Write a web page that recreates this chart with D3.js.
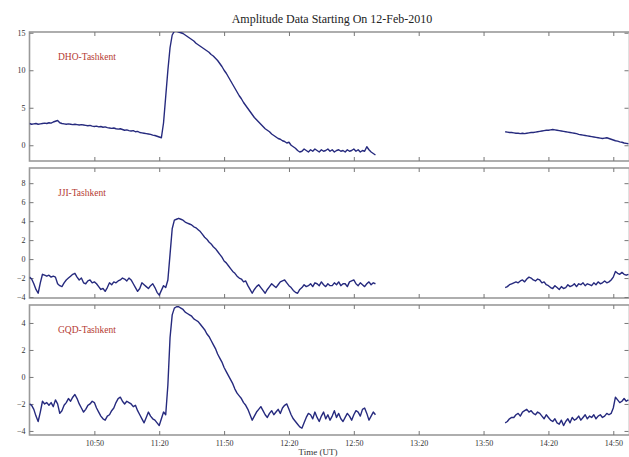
<!DOCTYPE html>
<html>
<head>
<meta charset="utf-8">
<script src="https://cdn.jsdelivr.net/npm/d3@7"></script>
<style>
  body { margin: 0; background: #fff; }
  svg { display: block; font-family: "Liberation Serif", "DejaVu Serif", serif; }
</style>
</head>
<body>
<div id="chart"></div>
<script>
// ---- data (one sample per minute) ----
const title = "Amplitude Data Starting On 12-Feb-2010";
const xLabel = "Time (UT)";
const day = "2010-02-12";
const xStart = "10:20";
const xEnd = "14:57:30";
const xTickLabels = ["10:50", "11:20", "11:50", "12:20", "12:50", "13:20", "13:50", "14:20", "14:50"];

// two recording segments: first starts 10:20, second starts 14:00
const segStarts = ["10:20", "14:00"];

const stations = ["DHO-Tashkent", "JJI-Tashkent", "GQD-Tashkent"];

const dhoA = [
  2.9, 2.8, 2.85, 2.9, 2.8, 2.85, 2.9, 2.95, 2.9, 3.0,
  2.95, 3.1, 3.2, 3.3, 3.0, 2.9, 2.85, 2.8, 2.85, 2.8,
  2.75, 2.8, 2.75, 2.7, 2.75, 2.7, 2.65, 2.6, 2.65, 2.55,
  2.5, 2.55, 2.45, 2.5, 2.4, 2.45, 2.35, 2.3, 2.25, 2.3,
  2.2, 2.15, 2.2, 2.1, 2.0, 2.05, 1.95, 1.9, 1.95, 1.8,
  1.85, 1.7, 1.65, 1.6, 1.55, 1.5, 1.45, 1.35, 1.3, 1.2,
  1.1, 1.0, 3.0, 6.5, 10.0, 13.0, 14.7, 15.2, 15.2, 15.1,
  15.0, 14.9, 14.7, 14.5, 14.3, 14.1, 13.9, 13.6, 13.4, 13.2,
  13.0, 12.8, 12.6, 12.4, 12.1, 11.9, 11.6, 11.3, 10.9, 10.5,
  10.0, 9.6, 9.1, 8.6, 8.1, 7.6, 7.1, 6.6, 6.2, 5.7,
  5.3, 4.9, 4.5, 4.1, 3.7, 3.4, 3.1, 2.8, 2.5, 2.2,
  2.0, 1.8, 1.5, 1.3, 1.1, 0.9, 0.8, 0.6, 0.5, 0.3,
  0.4, 0.0, -0.2, -0.4, -0.7, -0.9, -0.8, -0.5, -0.7, -0.9,
  -0.6, -0.8, -0.5, -0.7, -0.9, -0.6, -0.8, -0.7, -0.5, -0.8,
  -0.6, -0.9, -0.7, -0.6, -0.8, -0.7, -0.9, -0.6, -0.8, -0.7,
  -0.5, -0.8, -0.6, -0.9, -0.7, -0.8, -0.2, -0.6, -0.9, -1.1,
  -1.3
];
const dhoB = [
  1.8, 1.75, 1.7, 1.7, 1.65, 1.6, 1.6, 1.55, 1.6, 1.55,
  1.6, 1.65, 1.7, 1.7, 1.75, 1.8, 1.85, 1.9, 1.95, 2.0,
  2.0, 2.05, 2.1, 2.05, 2.0, 1.95, 1.9, 1.85, 1.8, 1.75,
  1.7, 1.65, 1.6, 1.55, 1.45, 1.4, 1.35, 1.3, 1.25, 1.2,
  1.15, 1.1, 1.05, 1.0, 0.95, 0.9, 0.95, 1.0, 0.9, 0.8,
  0.7, 0.6, 0.55, 0.45, 0.4, 0.3, 0.25, 0.2
];

const jjiA = [
  -1.9, -2.1, -2.6, -3.2, -3.6, -2.5, -1.6, -1.7, -1.8, -1.7,
  -1.9, -1.8, -1.9, -2.6, -2.8, -2.9, -2.5, -2.2, -2.0, -1.8,
  -1.6, -1.5, -1.9, -2.2, -2.0, -2.5, -2.6, -2.3, -2.2, -2.5,
  -2.4, -2.6, -2.9, -3.2, -3.1, -3.4, -3.0, -2.5, -2.7, -2.4,
  -2.5, -2.3, -2.2, -2.0, -2.1, -2.3, -2.0, -2.2, -2.6, -3.0,
  -3.4, -3.1, -2.5, -2.7, -2.9, -3.1, -2.8, -2.6, -3.0, -3.5,
  -3.8, -3.3, -2.8, -3.0, -2.2, 0.5, 3.2, 4.1, 4.2, 4.3,
  4.2, 4.1, 3.9, 3.8, 3.7, 3.6, 3.4, 3.3, 3.1, 2.9,
  2.6, 2.3, 2.1, 1.8, 1.6, 1.3, 1.1, 0.8, 0.5, 0.2,
  -0.2, -0.4, -0.7, -1.0, -1.3, -1.5, -1.8, -2.0, -2.1, -2.4,
  -2.3, -2.8, -3.2, -3.6, -3.2, -2.9, -2.7, -3.0, -3.3, -3.6,
  -3.2, -2.9, -2.6, -2.8, -3.0, -2.7, -2.4, -2.3, -2.2, -2.5,
  -2.8, -3.0, -3.3, -3.5, -3.6, -3.2, -3.0, -2.7, -2.9, -2.8,
  -2.6, -2.9, -2.5, -2.6, -2.8, -2.4, -2.7, -2.9, -2.6, -2.8,
  -2.8, -2.5, -2.7, -2.4, -2.8, -2.6, -2.6, -2.9, -2.4, -2.3,
  -2.2, -2.6, -2.8, -2.5, -2.7, -2.9, -2.6, -2.4, -2.7, -2.5,
  -2.6
];
const jjiB = [
  -3.0, -2.9, -2.7, -2.6, -2.5, -2.4, -2.5, -2.3, -2.2, -2.4,
  -2.1, -1.9, -2.0, -2.2, -2.3, -2.1, -2.2, -2.5, -2.4, -2.7,
  -2.8, -3.0, -3.1, -2.8, -3.0, -3.2, -2.9, -3.1, -3.0, -2.7,
  -2.9, -2.8, -2.6, -2.9, -2.6, -2.7, -2.5, -2.8, -2.6, -2.7,
  -2.8, -2.5, -2.7, -2.4, -2.6, -2.5, -2.3, -2.5, -2.4, -2.2,
  -1.9, -1.3, -1.5, -1.6, -1.4, -1.6, -1.7, -1.6
];

const gqdA = [
  -2.0, -2.1, -2.4, -2.9, -3.3, -2.6, -1.8, -2.0, -1.9, -2.1,
  -1.9, -2.2, -1.7, -2.0, -2.7, -2.5, -2.1, -1.9, -1.6, -1.8,
  -1.5, -1.3, -1.6, -2.0, -2.3, -2.6, -2.4, -2.1, -2.0, -1.8,
  -1.9, -2.3, -2.6, -2.9, -3.1, -3.2, -2.9, -2.8, -2.5, -2.3,
  -1.9, -1.6, -1.5, -1.8, -2.0, -1.8, -1.9, -2.0, -2.2, -2.1,
  -2.5, -2.8, -3.1, -3.4, -3.0, -2.6, -2.9, -3.1, -3.2, -3.4,
  -3.6, -3.1, -2.6, -2.8, -0.6, 2.9, 4.6, 5.1, 5.2, 5.2,
  5.1, 5.0, 4.8, 4.7, 4.6, 4.5, 4.3, 4.2, 4.1, 3.9,
  3.7, 3.5, 3.2, 3.0, 2.7, 2.4, 2.1, 1.7, 1.4, 1.1,
  0.7, 0.4, 0.1, -0.2, -0.5, -0.9, -1.2, -1.4, -1.6, -1.9,
  -2.1, -2.4, -2.8, -3.2, -2.9, -2.6, -2.4, -2.2, -2.5, -2.8,
  -3.0, -2.7, -2.5, -2.8, -2.6, -2.4, -2.7, -2.3, -2.1, -2.0,
  -2.4, -2.8, -3.1, -3.3, -3.5, -3.7, -3.8, -3.4, -3.0, -2.7,
  -2.8, -3.1, -2.6, -3.0, -3.3, -2.9, -2.6, -3.1, -2.8, -3.2,
  -2.9, -2.5, -3.0, -2.7, -3.1, -3.3, -3.0, -2.7, -2.9, -3.2,
  -2.8, -2.5, -2.6, -2.9, -2.4, -2.3, -2.7, -3.2, -2.9, -2.6,
  -2.8
];
const gqdB = [
  -3.4, -3.3, -3.1, -3.0, -3.0, -2.8, -2.7, -2.9, -2.6, -2.5,
  -2.4, -2.6, -2.5, -2.7, -2.8, -2.6, -2.7, -2.9, -3.1, -2.8,
  -3.0, -3.2, -3.3, -3.1, -3.4, -3.5, -3.2, -3.6, -3.3, -3.1,
  -3.4, -3.0, -3.2, -3.1, -2.9, -3.2, -3.0, -2.8, -3.1, -2.9,
  -3.0, -2.8, -3.1, -2.9, -2.8, -3.0, -2.9, -2.7, -2.8, -2.7,
  -2.3, -1.5, -1.7, -1.9, -1.8, -1.6, -1.8, -1.7
];

const yTicksDho = [0, 5, 10, 15];
const yTicksJji = [-4, -2, 0, 2, 4, 6, 8];
const yTicksGqd = [-4, -2, 0, 2, 4];
const yDomainDho = [-2.1, 15.1];
const yDomainJji = [-4.1, 9.6];
const yDomainGqd = [-4.3, 5.33];

// ---- layout ----
const W = 629;
const H = 457;
const left = 29.5;
const right = 629.5;
const panelBoxes = [
  { top: 32, bottom: 161 },
  { top: 168, bottom: 298 },
  { top: 305, bottom: 435 },
];
const lineColor = "#262a7e";
const frameColor = "#9a9a9a";

const parseTime = d3.utcParse("%Y-%m-%d %H:%M:%S");
const toDate = (s) => parseTime(`${day} ${s.length === 5 ? s + ":00" : s}`);

const panels = [
  { name: stations[0], segs: [dhoA, dhoB], ticks: yTicksDho, domain: yDomainDho },
  { name: stations[1], segs: [jjiA, jjiB], ticks: yTicksJji, domain: yDomainJji },
  { name: stations[2], segs: [gqdA, gqdB], ticks: yTicksGqd, domain: yDomainGqd },
];

const svg = d3
  .select("#chart")
  .append("svg")
  .attr("width", W)
  .attr("height", H);

svg.append("rect").attr("width", W).attr("height", H).attr("fill", "#fff");

const x = d3
  .scaleUtc()
  .domain([toDate(xStart), toDate(xEnd)])
  .range([left, right]);

const xTickValues = xTickLabels.map(toDate);
const fmt = d3.utcFormat("%H:%M");

// title
svg
  .append("text")
  .attr("x", 332)
  .attr("y", 23)
  .attr("text-anchor", "middle")
  .attr("font-size", 12)
  .attr("fill", "#222")
  .text(title);

panels.forEach((p, i) => {
  const box = panelBoxes[i];
  const y = d3.scaleLinear().domain(p.domain).range([box.bottom, box.top]);
  const g = svg.append("g").attr("class", "panel");

  const clipId = `clip${i}`;
  svg
    .append("clipPath")
    .attr("id", clipId)
    .append("rect")
    .attr("x", left)
    .attr("y", box.top)
    .attr("width", right - left)
    .attr("height", box.bottom - box.top);

  // frame
  g.append("rect")
    .attr("x", left)
    .attr("y", box.top)
    .attr("width", right - left)
    .attr("height", box.bottom - box.top)
    .attr("fill", "none")
    .attr("stroke", frameColor)
    .attr("stroke-width", 1.6);

  // bottom axis (labels only under the last panel)
  const bottomAxis = d3
    .axisBottom(x)
    .tickValues(xTickValues)
    .tickSize(-4)
    .tickPadding(5)
    .tickFormat(i === panels.length - 1 ? fmt : "");
  g.append("g")
    .attr("transform", `translate(0,${box.bottom})`)
    .call(bottomAxis)
    .call((a) => a.select(".domain").remove());

  // top axis, ticks only
  g.append("g")
    .attr("transform", `translate(0,${box.top})`)
    .call(d3.axisTop(x).tickValues(xTickValues).tickSize(-4).tickFormat(""))
    .call((a) => a.select(".domain").remove());

  // left axis
  g.append("g")
    .attr("transform", `translate(${left},0)`)
    .call(d3.axisLeft(y).tickValues(p.ticks).tickSize(-4).tickPadding(4).tickFormat(d3.format("d")))
    .call((a) => a.select(".domain").remove());

  // right axis, ticks only
  g.append("g")
    .attr("transform", `translate(${right - 1},0)`)
    .call(d3.axisRight(y).tickValues(p.ticks).tickSize(-4).tickFormat(""))
    .call((a) => a.select(".domain").remove());

  g.selectAll(".tick line").attr("stroke", "#777");
  g.selectAll(".tick text")
    .attr("font-family", "Liberation Serif, serif")
    .attr("font-size", 8)
    .attr("fill", "#333");

  // station label
  g.append("text")
    .attr("x", 58)
    .attr("y", box.top + 28)
    .attr("font-size", 9.5)
    .attr("fill", "#b53a32")
    .text(p.name);

  // traces
  const line = d3
    .line()
    .x((d) => x(d.t))
    .y((d) => y(d.v));

  p.segs.forEach((vals, k) => {
    const t0 = toDate(segStarts[k]);
    const pts = vals.map((v, j) => ({ t: d3.utcMinute.offset(t0, j), v }));
    g.append("path")
      .datum(pts)
      .attr("clip-path", `url(#${clipId})`)
      .attr("fill", "none")
      .attr("stroke", lineColor)
      .attr("stroke-width", 1.4)
      .attr("stroke-linejoin", "round")
      .attr("d", line);
  });
});

// x axis label
svg
  .append("text")
  .attr("x", 318)
  .attr("y", 455)
  .attr("text-anchor", "middle")
  .attr("font-size", 9)
  .attr("fill", "#333")
  .text(xLabel);
</script>
</body>
</html>
